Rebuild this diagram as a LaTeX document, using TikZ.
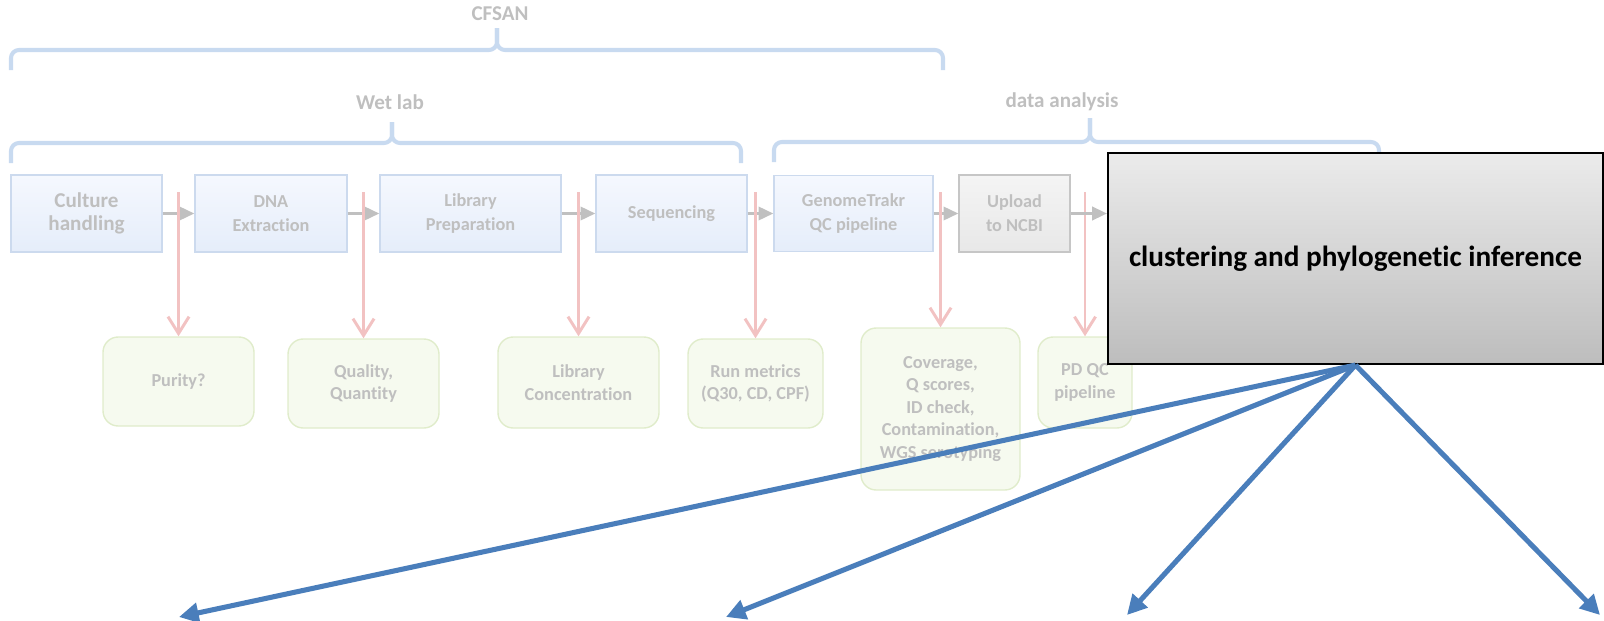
\documentclass[tikz,border=0pt]{standalone}
\usepackage{fontspec}
\setmainfont{Carlito}[Ligatures=NoCommon]
\usetikzlibrary{shapes,arrows.meta}

\definecolor{fadetext}{HTML}{BFBFBF}
\definecolor{stepedge}{HTML}{CCDAEE}
\definecolor{steptop}{HTML}{F5F8FE}
\definecolor{stepbot}{HTML}{E5EDFA}
\definecolor{checkedge}{HTML}{E0ECCB}
\definecolor{checkfill}{HTML}{F6FAEF}
\definecolor{uploadedge}{HTML}{C6C6C6}
\definecolor{uploadtop}{HTML}{F4F4F4}
\definecolor{uploadbot}{HTML}{E8E8E8}
\definecolor{bigtop}{HTML}{EBEBEB}
\definecolor{bigbot}{HTML}{BDBDBD}
\definecolor{flowgray}{HTML}{C0C0C0}
\definecolor{probered}{HTML}{F2C2C2}
\definecolor{fanblue}{HTML}{4A7EBB}
\definecolor{bracketblue}{HTML}{C8DAF0}

\tikzstyle{stepbox} = [rectangle, draw=stepedge, line width=1pt, top color=steptop, bottom color=stepbot, text=fadetext, align=center, minimum height=1.925cm, inner sep=2pt, font=\fontsize{13}{17}\selectfont\bfseries]
\tikzstyle{uploadbox} = [stepbox, draw=uploadedge, top color=uploadtop, bottom color=uploadbot]
\tikzstyle{checkbox} = [rectangle, rounded corners=0.38cm, draw=checkedge, line width=1pt, fill=checkfill, text=fadetext, align=center, inner sep=2pt, font=\fontsize{13}{16}\selectfont\bfseries]
\tikzstyle{bigbox} = [rectangle, draw=black, line width=1.5pt, top color=bigtop, bottom color=bigbot, align=center, font=\fontsize{20.8}{24}\selectfont\bfseries]
\tikzstyle{heading} = [text=fadetext, font=\fontsize{15}{18}\selectfont\bfseries]
\tikzstyle{bracket} = [draw=bracketblue, line width=2.9pt, rounded corners=0.2cm]
\tikzstyle{flow} = [draw=flowgray, line width=1.8pt, -{Triangle[length=10.5pt,width=9.5pt]}]
\tikzstyle{probe} = [draw=probered, line width=2.1pt, -{Straight Barb[length=12pt,width=15pt]}]
\tikzstyle{fanout} = [draw=fanblue, line width=3.6pt, -{Triangle[length=14pt,width=14pt]}]

\begin{document}
\begin{tikzpicture}
\useasboundingbox (0,0) rectangle (40.1,-15.5);

% groups
\node [heading] (cfsan) at (12.5,-0.35) {CFSAN};
\node [heading] (wetlab) at (9.75,-2.55) {Wet lab};
\node [heading] (analysis) at (26.55,-2.55) {data analysis};

\path [bracket] (0.275,-1.75) -- (0.275,-1.25) -- (12.425,-1.25) -- (12.425,-0.7);
\path [bracket] (23.575,-1.75) -- (23.575,-1.25) -- (12.425,-1.25) -- (12.425,-0.7);
\path [bracket] (0.275,-4.075) -- (0.275,-3.575) -- (9.8,-3.575) -- (9.8,-3.05);
\path [bracket] (18.525,-4.075) -- (18.525,-3.575) -- (9.8,-3.575) -- (9.8,-3.05);
\path [bracket] (19.35,-4.05) -- (19.35,-3.55) -- (27.25,-3.55) -- (27.25,-2.95);
\path [bracket] (34.475,-4.05) -- (34.475,-3.55) -- (27.25,-3.55) -- (27.25,-2.95);

% pipeline
\node [stepbox, minimum width=3.775cm, font=\fontsize{15}{16}\selectfont\bfseries] (culture) at (2.1625,-5.3375) {Culture\\handling};
\node [stepbox, right of=culture, minimum width=3.8cm, node distance=4.6125cm] (dna) {DNA\\Extraction};
\node [stepbox, right of=dna, minimum width=4.525cm, node distance=4.9875cm] (libprep) {Library\\Preparation};
\node [stepbox, right of=libprep, minimum width=3.775cm, node distance=5.025cm] (seq) {Sequencing};
\node [stepbox, right of=seq, minimum width=3.975cm, minimum height=1.9cm, node distance=4.55cm] (gtrakr) {GenomeTrakr\\QC pipeline};
\node [uploadbox, right of=gtrakr, minimum width=2.775cm, node distance=4.025cm] (upload) {Upload\\to NCBI};

\path [flow] (culture) -- (dna);
\path [flow] (dna) -- (libprep);
\path [flow] (libprep) -- (seq);
\path [flow] (seq) -- (gtrakr);
\path [flow] (gtrakr) -- (upload);

% checks
\coordinate (rtop) at (0,-4.8);
\node [checkbox, minimum width=3.775cm, minimum height=2.225cm] (purity) at (4.4625,-9.5375) {Purity?};
\node [checkbox, minimum width=3.775cm, minimum height=2.225cm] (quality) at (9.0875,-9.5875) {Quality,\\Quantity};
\node [checkbox, minimum width=4.025cm, minimum height=2.275cm] (libconc) at (14.4625,-9.5625) {Library\\Concentration};
\node [checkbox, minimum width=3.375cm, minimum height=2.225cm] (runm) at (18.8875,-9.5875) {Run metrics\\(Q30, CD, CPF)};
\node [checkbox, minimum width=3.975cm, minimum height=4.05cm] (coverage) at (23.5125,-10.225) {Coverage,\\Q scores,\\ID check,\\Contamination,\\WGS serotyping};
\node [checkbox, minimum width=2.35cm, minimum height=2.275cm] (pdqc) at (27.125,-9.5625) {PD QC\\pipeline};

\path [probe] (purity.north |- rtop) -- (purity.north);
\path [probe] (quality.north |- rtop) -- (quality.north);
\path [probe] (libconc.north |- rtop) -- (libconc.north);
\path [probe] (runm.north |- rtop) -- (runm.north);
\path [probe] (coverage.north |- rtop) -- (coverage.north);
\path [probe] (pdqc.north |- rtop) -- (pdqc.north);

% clustering
\node [bigbox, minimum width=12.375cm, minimum height=5.275cm] (cluster) at (33.8875,-6.4625) {clustering and phylogenetic inference};
\path [flow] (upload.east) -- (upload.east -| cluster.west);

\coordinate (out1) at (4.475,-15.425);
\coordinate (out2) at (18.15,-15.425);
\coordinate (out3) at (28.175,-15.375);
\coordinate (out4) at (40.0,-15.375);
\path [fanout] (cluster.south) -- (out1);
\path [fanout] (cluster.south) -- (out2);
\path [fanout] (cluster.south) -- (out3);
\path [fanout] (cluster.south) -- (out4);

\end{tikzpicture}
\end{document}
